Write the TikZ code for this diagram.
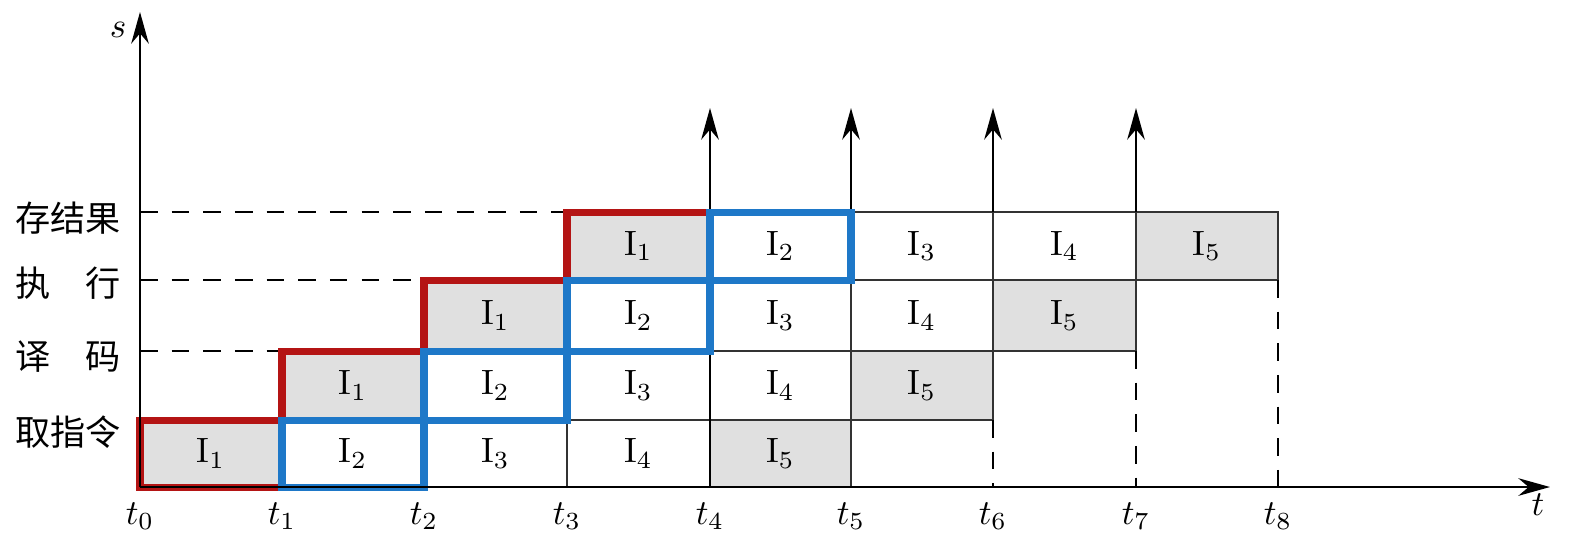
\documentclass[tikz,border=0pt]{standalone}
\usepackage{fontspec}
\newfontfamily\cjk{Noto Sans CJK SC}
\usetikzlibrary{arrows.meta}
\begin{document}
\begin{tikzpicture}[x=0.01cm,y=-0.01cm,
  cell/.style={draw=black!80,line width=0.6pt},
  graycell/.style={cell,fill=black!12},
  ax/.style={line width=0.7pt,-{Stealth[length=9pt,width=5pt]}},
  dashline/.style={line width=0.7pt,dash pattern=on 5pt off 4pt},
  lbl/.style={font=\fontsize{10}{11}\selectfont},
  redline/.style={draw={rgb,255:red,180;green,20;blue,20},line width=2pt},
  blueline/.style={draw={rgb,255:red,30;green,120;blue,200},line width=2pt}]
\useasboundingbox (0,0) rectangle (1581,550);
\def\X{{140,282,424,567,710,851,993,1136,1278}}
\def\Y{{487,420,351,280,212}}
% cells
\foreach \r in {0,...,3}{
  \foreach \k in {0,...,4}{
    \pgfmathtruncatemacro\c{\r+\k}
    \pgfmathsetmacro\xa{\X[\c]}
    \pgfmathsetmacro\xb{\X[\c+1]}
    \pgfmathsetmacro\ya{\Y[\r]}
    \pgfmathsetmacro\yb{\Y[\r+1]}
    \pgfmathtruncatemacro\n{\k+1}
    \ifnum\k=0 \def\st{graycell}\else\ifnum\k=4 \def\st{graycell}\else\def\st{cell}\fi\fi
    \path[\st] (\xa,\ya) rectangle (\xb,\yb);
    \node[lbl] at ({(\xa+\xb)/2},{(\ya+\yb)/2}) {I$_{\n}$};
  }
}
% dashed lines
\draw[dashline] (140,212) -- (567,212);
\draw[dashline] (140,280) -- (424,280);
\draw[dashline] (140,351) -- (282,351);
\draw[dashline] (993,420) -- (993,487);
\draw[dashline] (1136,351) -- (1136,487);
\draw[dashline] (1278,280) -- (1278,487);
% up arrows
\draw[ax] (710,487) -- (710,108);
\draw[ax] (851,212) -- (851,108);
\draw[ax] (993,212) -- (993,108);
\draw[ax] (1136,212) -- (1136,108);
% red staircase
\draw[redline] (282,487) -- (140,487) -- (140,420) -- (282,420) -- (282,351) -- (424,351) -- (424,280) -- (567,280) -- (567,212) -- (710,212);
\draw[redline] (282,487) -- (282,420);
% blue boxes
\draw[blueline] (282,487) rectangle (424,420);
\draw[blueline] (424,420) rectangle (567,351);
\draw[blueline] (567,351) rectangle (710,280);
\draw[blueline] (710,280) rectangle (851,212);
% axes
\draw[ax] (140,487) -- (140,12);
\draw[ax] (140,487) -- (1550,487);
\node[lbl] at (118,30) {$s$};
\node[lbl] at (1538,505) {$t$};
\foreach \i in {0,...,8}{
  \pgfmathsetmacro\xx{\X[\i]}
  \node[lbl] at (\xx,516) {$t_{\i}$};
}
% row labels
\node[font=\cjk\fontsize{10}{11}\selectfont] at (68,218) {存结果};
\node[font=\cjk\fontsize{10}{11}\selectfont] at (68,283) {执\hspace{1em}行};
\node[font=\cjk\fontsize{10}{11}\selectfont] at (68,357) {译\hspace{1em}码};
\node[font=\cjk\fontsize{10}{11}\selectfont] at (68,432) {取指令};
\end{tikzpicture}
\end{document}
